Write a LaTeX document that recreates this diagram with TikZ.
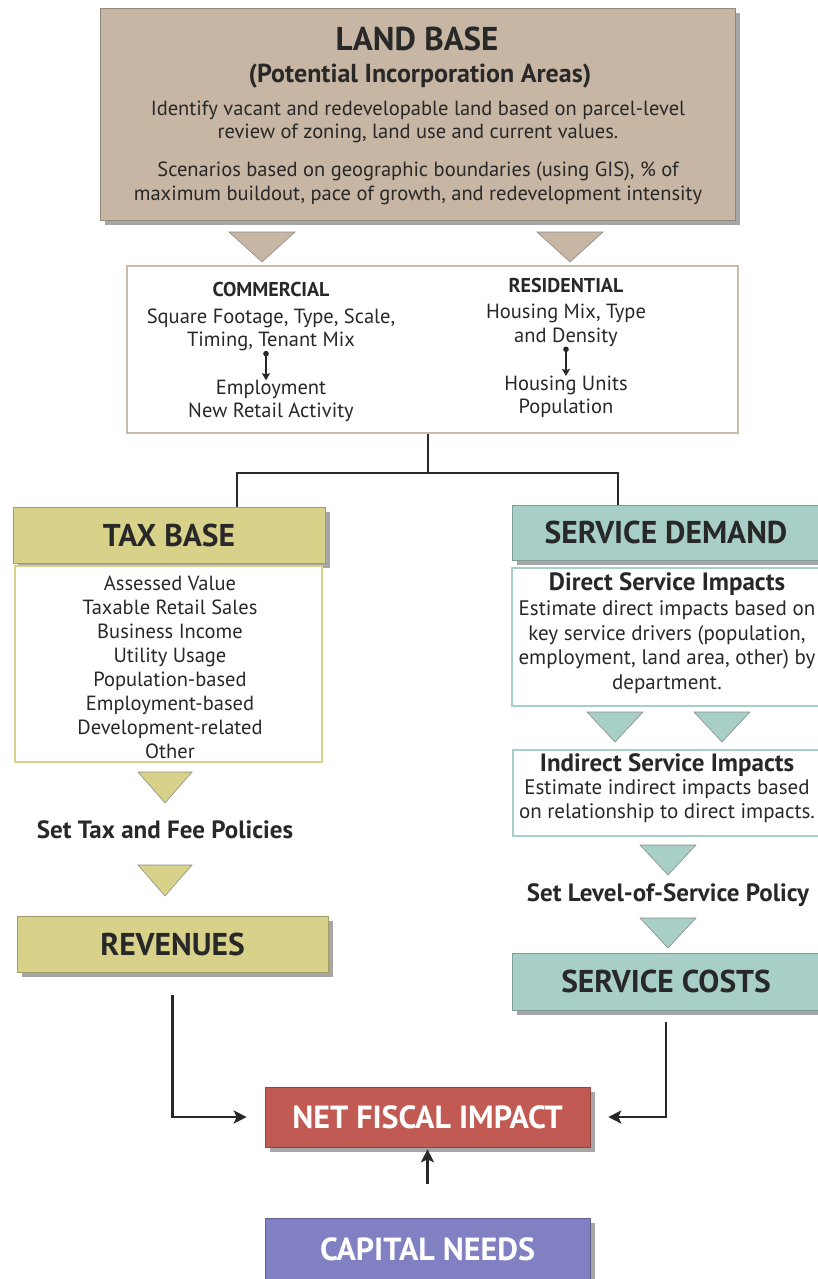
\documentclass[tikz,border=0pt]{standalone}
\usepackage{fontspec}
\setmainfont{PT Sans}
\usetikzlibrary{shadows,arrows.meta}
\definecolor{landfill}{RGB}{198,182,163}
\definecolor{landline}{RGB}{200,188,168}
\definecolor{taxfill}{RGB}{216,209,138}
\definecolor{servfill}{RGB}{168,207,199}
\definecolor{nfifill}{RGB}{193,90,82}
\definecolor{capfill}{RGB}{128,128,194}
\definecolor{ink}{RGB}{40,40,40}
\tikzset{
  boxshadow/.style={drop shadow={shadow xshift=5pt,shadow yshift=-5pt,fill=black,opacity=0.35}},
  bigbox/.style={draw=#1!75!black, line width=0.6pt, fill=#1, boxshadow, inner sep=0pt},
  listbox/.style={draw=#1, line width=1.5pt, fill=white, inner sep=0pt},
  headtxt/.style={text=ink, font=\bfseries\fontsize{31.5}{34}\selectfont},
  whitetxt/.style={text=white, font=\bfseries\fontsize{32}{34}\selectfont},
  bodytxt/.style={text=ink, align=center, inner sep=0pt, font=\fontsize{20.5}{23}\selectfont},
  boldtxt/.style={text=ink, align=center, inner sep=0pt, font=\bfseries\fontsize{25}{28}\selectfont},
  conn/.style={draw=ink, line width=2.5pt},
  connarrow/.style={conn, -{Stealth[length=13pt,width=13pt,inset=3pt]}},
  dotarrow/.style={draw=ink, line width=1.3pt, {Circle[length=5.5pt]}-{Stealth[length=7pt,width=8pt,inset=1pt]}},
  pics/landtri/.style={code={\draw[fill=landfill, draw=black!45, line width=0.6pt] (-33,0) -- (33,0) -- (0,30) -- cycle;}},
  pics/taxtri/.style={code={\draw[fill=taxfill, draw=black!45, line width=0.6pt] (-27,0) -- (27,0) -- (0,31) -- cycle;}},
  pics/servtri/.style={code={\draw[fill=servfill, draw=black!45, line width=0.6pt] (-28,0) -- (28,0) -- (0,30) -- cycle;}},
}
\begin{document}
\begin{tikzpicture}[x=1pt,y=-1pt]
\useasboundingbox[fill=white] (0,0) rectangle (817,1279);

% LAND BASE
\node[bigbox=landfill, minimum width=635pt, minimum height=212pt] (landbase) at (417.5,114) {};
\node[text=ink, inner sep=0pt, font=\bfseries\fontsize{33}{36}\selectfont] (lbtitle) at (417,39) {LAND BASE};
\node[boldtxt, font=\bfseries\fontsize{26}{28}\selectfont] (lbsub) at (420,76) {(Potential Incorporation Areas)};
\node[bodytxt] (lbp1) at (418,122) {Identify vacant and redevelopable land based on parcel-level\\review of zoning, land use and current values.};
\node[bodytxt, font=\fontsize{20.5}{24}\selectfont] (lbp2) at (418,183) {Scenarios based on geographic boundaries (using GIS), \% of\\maximum buildout, pace of growth, and redevelopment intensity};

\pic at (262,232) {landtri};
\pic at (570,232) {landtri};

% COMMERCIAL / RESIDENTIAL
\node[listbox=landline, line width=2pt, minimum width=611pt, minimum height=167pt] (combox) at (432.5,349.5) {};
\node[boldtxt, font=\bfseries\fontsize{20}{22}\selectfont] (comhead) at (271,289) {COMMERCIAL};
\node[bodytxt, font=\fontsize{20.5}{22.5}\selectfont] (comtop) at (271,330) {Square Footage, Type, Scale,\\Timing, Tenant Mix};
\node[bodytxt, font=\fontsize{20.5}{22.5}\selectfont] (combot) at (271,401) {Employment\\New Retail Activity};
\draw[dotarrow] ([xshift=-5pt]comtop.south) -- ([xshift=-5pt]combot.north);
\node[boldtxt, font=\bfseries\fontsize{20}{22}\selectfont] (reshead) at (566,285) {RESIDENTIAL};
\node[bodytxt, font=\fontsize{20.5}{24}\selectfont] (restop) at (566,325) {Housing Mix, Type\\and Density};
\node[bodytxt, font=\fontsize{20.5}{23}\selectfont] (resbot) at (566,397) {Housing Units\\Population};
\draw[dotarrow] (restop.south) -- (resbot.north);

% TAX side
\node[bigbox=taxfill, minimum width=312pt, minimum height=56pt, headtxt] (taxbase) at (169,535) {TAX BASE};
\node[listbox=taxfill, minimum width=307pt, minimum height=196pt] (taxlist) at (168.5,664) {};
\node[bodytxt, font=\fontsize{20.5}{24}\selectfont] (taxitems) at (170,667) {Assessed Value\\Taxable Retail Sales\\Business Income\\Utility Usage\\Population-based\\Employment-based\\Development-related\\Other};
\pic at (165,772) {taxtri};
\node[boldtxt] (taxpol) at (165,830) {Set Tax and Fee Policies};
\pic at (165,865) {taxtri};
\node[bigbox=taxfill, minimum width=311pt, minimum height=56pt, headtxt] (revenues) at (172.5,944) {REVENUES};

% SERVICE side
\node[bigbox=servfill, minimum width=308pt, minimum height=55pt, headtxt] (sdemand) at (666,532.5) {SERVICE DEMAND};
\node[listbox=servfill, minimum width=308pt, minimum height=138pt] (direct) at (666,637) {};
\node[boldtxt] (directh) at (667,584) {Direct Service Impacts};
\node[bodytxt, font=\fontsize{21}{24.5}\selectfont] (directb) at (667,647) {Estimate direct impacts based on\\key service drivers (population,\\employment, land area, other) by\\department.};
\pic at (615,712) {servtri};
\pic at (722,712) {servtri};
\node[listbox=servfill, minimum width=308pt, minimum height=86pt] (indirect) at (667,793) {};
\node[boldtxt] (indirecth) at (667,765) {Indirect Service Impacts};
\node[bodytxt, font=\fontsize{21}{24}\selectfont] (indirectb) at (667,801) {Estimate indirect impacts based\\on relationship to direct impacts.};
\pic at (668,845) {servtri};
\node[boldtxt] (lospol) at (668,895) {Set Level-of-Service Policy};
\pic at (668,918) {servtri};
\node[bigbox=servfill, minimum width=308pt, minimum height=57pt, headtxt] (scosts) at (666,981.5) {SERVICE COSTS};

% NET FISCAL / CAPITAL
\node[bigbox=nfifill, minimum width=325pt, minimum height=60pt, whitetxt] (nfi) at (427.5,1117) {NET FISCAL IMPACT};
\node[bigbox=capfill, minimum width=325pt, minimum height=66pt, whitetxt, text depth=0pt] (capital) at (427.5,1251) {\raisebox{3pt}{CAPITAL NEEDS}};

% connectors
\coordinate (split) at (428,473);
\coordinate (jl) at (237,473);
\coordinate (jr) at (618,473);
\draw[conn] (combox.south -| split) -- (split);
\draw[conn] (jl |- taxbase.north) -- (jl) -- (jr) -- (jr |- sdemand.north);
\draw[connarrow, shorten <=23pt, shorten >=18pt] (revenues.south) |- (nfi.west);
\draw[connarrow, shorten <=12pt, shorten >=18pt] (scosts.south) |- (nfi.east);
\draw[connarrow, shorten <=34pt, shorten >=2pt] (capital.north) -- (nfi.south);
\end{tikzpicture}
\end{document}
